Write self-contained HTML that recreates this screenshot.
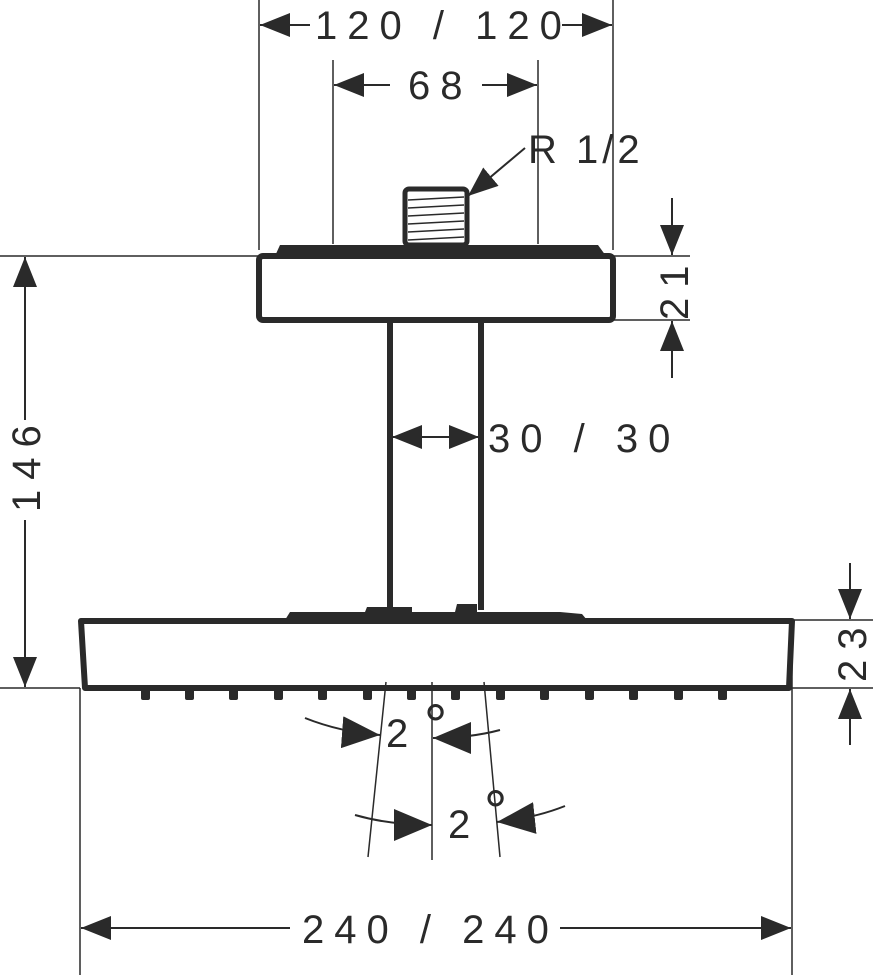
<!DOCTYPE html>
<html><head><style>html,body{margin:0;padding:0;background:#fff}svg{display:block}text{font-family:"Liberation Sans",sans-serif;font-size:40px;fill:#2a2a2a;letter-spacing:10px}</style></head><body>
<svg width="873" height="975" viewBox="0 0 873 975" xmlns="http://www.w3.org/2000/svg">
<defs><marker id="a" viewBox="0 0 30 24" refX="30" refY="12" markerWidth="30" markerHeight="24" markerUnits="userSpaceOnUse" orient="auto"><path d="M0,0L30,12L0,24z" fill="#2a2a2a"/></marker>
<marker id="b" viewBox="0 0 38 32" refX="38" refY="16" markerWidth="38" markerHeight="32" markerUnits="userSpaceOnUse" orient="auto"><path d="M0,0L38,16L0,32z" fill="#2a2a2a"/></marker></defs>
<g stroke="#2a2a2a" fill="none">
<g stroke-width="1.5">
<line x1="259" y1="0" x2="259" y2="250"/><line x1="613" y1="0" x2="613" y2="250"/>
<line x1="333" y1="60" x2="333" y2="244"/><line x1="538" y1="60" x2="538" y2="244"/>
<line x1="0" y1="256" x2="259" y2="256"/><line x1="613" y1="256" x2="690" y2="256"/>
<line x1="613" y1="320" x2="690" y2="320"/>
<line x1="0" y1="688" x2="80" y2="688"/><line x1="792" y1="620" x2="873" y2="620"/><line x1="792" y1="688" x2="873" y2="688"/>
<line x1="80" y1="688" x2="80" y2="975"/><line x1="792" y1="620" x2="792" y2="975"/>
<line x1="432" y1="682" x2="432" y2="860"/><line x1="386" y1="682" x2="368" y2="857"/><line x1="484" y1="682" x2="500" y2="857"/>
</g>
<g stroke-width="2">
<line x1="310" y1="25" x2="260" y2="25" marker-end="url(#a)"/>
<line x1="562" y1="25" x2="612" y2="25" marker-end="url(#a)"/>
<line x1="390" y1="85" x2="334" y2="85" marker-end="url(#a)"/>
<line x1="482" y1="85" x2="537" y2="85" marker-end="url(#a)"/>
<line x1="525" y1="148" x2="468" y2="196" marker-end="url(#a)"/>
<line x1="672" y1="198" x2="672" y2="255" marker-end="url(#a)"/>
<line x1="672" y1="378" x2="672" y2="321" marker-end="url(#a)"/>
<line x1="25" y1="420" x2="25" y2="257" marker-end="url(#a)"/>
<line x1="25" y1="520" x2="25" y2="687" marker-end="url(#a)"/>
<line x1="435" y1="437" x2="392" y2="437" marker-end="url(#a)"/>
<line x1="435" y1="437" x2="479" y2="437" marker-end="url(#a)"/>
<line x1="850" y1="563" x2="850" y2="619" marker-end="url(#a)"/>
<line x1="850" y1="745" x2="850" y2="689" marker-end="url(#a)"/>
<line x1="290" y1="928" x2="81" y2="928" marker-end="url(#a)"/>
<line x1="560" y1="928" x2="791" y2="928" marker-end="url(#a)"/>
<path d="M305,718 Q340,732 380,735" marker-end="url(#b)"/>
<path d="M500,730 Q470,738 433,738" marker-end="url(#b)"/>
<path d="M355,815 Q390,825 432,825" marker-end="url(#b)"/>
<path d="M565,806 Q535,818 497,822" marker-end="url(#b)"/>
</g>
<rect x="259" y="256" width="354" height="64" rx="4" stroke-width="6"/>
<path d="M275,256 L280,245 L598,245 L606,256 Z" fill="#2a2a2a" stroke="none"/>
<rect x="405" y="189" width="62" height="56" rx="4" stroke-width="5"/>
<g stroke-width="1.5"><line x1="408" y1="200" x2="464" y2="197"/><line x1="408" y1="208" x2="464" y2="205"/><line x1="408" y1="216" x2="464" y2="213"/><line x1="408" y1="224" x2="464" y2="221"/><line x1="408" y1="232" x2="464" y2="229"/><line x1="408" y1="240" x2="464" y2="237"/></g>
<line x1="390" y1="320" x2="390" y2="610" stroke-width="6"/>
<line x1="481" y1="320" x2="481" y2="610" stroke-width="6"/>
<path d="M285,620 L290,612 L365,612 L367,607 L412,607 L412,612 L455,612 L457,604 L477,604 L477,612 L560,612 L582,614 L587,620 Z" fill="#2a2a2a" stroke="none"/>
<path d="M81,621 L792,621 L789,688 L85,688 Z" stroke-width="6" stroke-linejoin="round"/>
<g fill="#2a2a2a" stroke="none">
<rect x="141" y="688" width="9" height="12" rx="2"/><rect x="185" y="688" width="9" height="12" rx="2"/><rect x="229" y="688" width="9" height="12" rx="2"/><rect x="274" y="688" width="9" height="12" rx="2"/><rect x="318" y="688" width="9" height="12" rx="2"/><rect x="363" y="688" width="9" height="12" rx="2"/><rect x="407" y="688" width="9" height="12" rx="2"/><rect x="451" y="688" width="9" height="12" rx="2"/><rect x="496" y="688" width="9" height="12" rx="2"/><rect x="540" y="688" width="9" height="12" rx="2"/><rect x="585" y="688" width="9" height="12" rx="2"/><rect x="629" y="688" width="9" height="12" rx="2"/><rect x="674" y="688" width="9" height="12" rx="2"/><rect x="718" y="688" width="9" height="12" rx="2"/>
</g>
</g>
<text x="315" y="39">120 / 120</text>
<text x="408" y="99">68</text>
<text x="528" y="163" style="letter-spacing:4px">R 1/2</text>
<text x="488" y="452">30 / 30</text>
<text x="302" y="943">240 / 240</text>
<text x="386" y="747">2</text>
<text x="424" y="745" style="font-size:58px">°</text>
<text x="448" y="838">2</text>
<text x="484" y="831" style="font-size:58px">°</text>
<text transform="translate(40,512) rotate(-90)">146</text>
<text transform="translate(688,320) rotate(-90)">21</text>
<text transform="translate(866,682) rotate(-90)">23</text>
</svg>
</body></html>
